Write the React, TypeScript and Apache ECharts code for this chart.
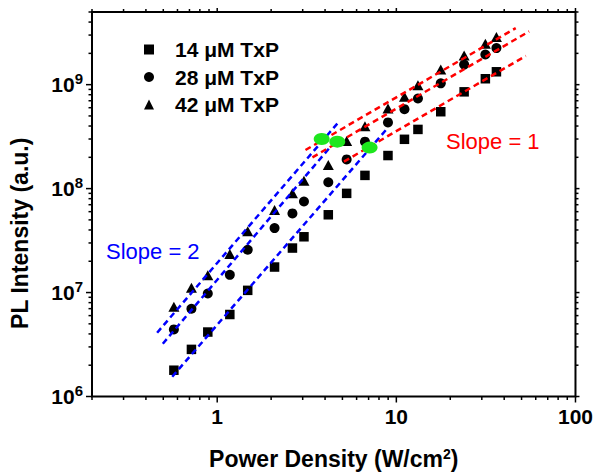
import React, { useEffect, useRef } from "react";
import * as echarts from "echarts";

const FONT = "'Liberation Sans', Arial, Helvetica, sans-serif";

// Data
const powerDensity = [0.573, 0.718, 0.886, 1.176, 1.48, 2.09, 2.63, 3.05, 4.17, 5.28, 6.68, 8.98, 11.1, 13.2, 17.7, 23.9, 31.4, 36.2];
const pl14 = [1.79e6, 2.84e6, 4.17e6, 6.15e6, 1.05e7, 1.76e7, 2.68e7, 3.44e7, 5.6e7, 9.0e7, 1.34e8, 2.08e8, 2.98e8, 3.71e8, 5.49e8, 8.53e8, 1.14e9, 1.33e9];
const pl28 = [4.42e6, 6.98e6, 9.8e6, 1.48e7, 2.58e7, 4.17e7, 5.77e7, 7.52e7, 1.15e8, 1.91e8, 2.83e8, 4.33e8, 5.81e8, 7.36e8, 1.03e9, 1.56e9, 1.95e9, 2.25e9];
const pl42 = [7.3e6, 1.11e7, 1.47e7, 2.35e7, 3.88e7, 6.21e7, 9.0e7, 1.19e8, 1.69e8, 2.87e8, 3.99e8, 5.9e8, 7.64e8, 9.87e8, 1.4e9, 1.91e9, 2.48e9, 2.87e9];

const seriesNames = ["14 μM TxP", "28 μM TxP", "42 μM TxP"];

// Fit lines (slope 2: blue, slope 1: red), endpoints [x, y]
const blueFit1 = [[0.462, 4.11e6], [4.78, 4.4e8]];
const blueFit2 = [[0.497, 3.22e6], [4.29, 2.53e8]];
const blueFit3 = [[0.561, 1.55e6], [8.9, 3.79e8]];
const redFit1 = [[3.11, 2.35e8], [46.4, 3.5e9]];
const redFit2 = [[3.4, 2.0e8], [55.1, 3.25e9]];
const redFit3 = [[5.1, 1.82e8], [52.8, 1.89e9]];

// Green highlighted transition points
const kneeX = [3.83, 4.68, 7.09];
const kneeY = [3.0e8, 2.83e8, 2.48e8];

// Axis ranges and tick values
const X_MIN = 0.2;
const X_MAX = 100;
const Y_MIN = 1e6;
const Y_MAX = 5e9;
const xMajorTicks = [1, 10, 100];
const xMinorTicks = [0.2, 0.3, 0.4, 0.5, 0.6, 0.7, 0.8, 0.9, 2, 3, 4, 5, 6, 7, 8, 9, 20, 30, 40, 50, 60, 70, 80, 90];
const yMajorTicks = [1e6, 1e7, 1e8, 1e9];
const yMinorTicks = [2e6, 3e6, 4e6, 5e6, 6e6, 7e6, 8e6, 9e6, 2e7, 3e7, 4e7, 5e7, 6e7, 7e7, 8e7, 9e7, 2e8, 3e8, 4e8, 5e8, 6e8, 7e8, 8e8, 9e8, 2e9, 3e9, 4e9, 5e9];

const isPow10 = (v: number) => {
  const l = Math.log10(v);
  return Math.abs(l - Math.round(l)) < 1e-6;
};

export default function App() {
  const ref = useRef<HTMLDivElement>(null);
  useEffect(() => {
    if (!ref.current) return;
    const chart = echarts.init(ref.current, null, { renderer: "svg" });

    const pts = (ys: number[]) => powerDensity.map((x, i) => [x, ys[i]]);
    const tickData: number[][] = [
      ...xMajorTicks.map((v) => [v, Y_MIN, 0]),
      ...xMinorTicks.map((v) => [v, Y_MIN, 1]),
      ...yMajorTicks.map((v) => [X_MIN, v, 2]),
      ...yMinorTicks.map((v) => [X_MIN, v, 3]),
    ];

    const fitLine = (data: number[][], color: string) => ({
      type: "line",
      data,
      symbol: "none",
      silent: true,
      z: 3,
      lineStyle: { color, width: 2.5, type: [6, 4], opacity: 1 },
    });

    const option: any = {
      animation: false,
      backgroundColor: "#fff",
      textStyle: { fontFamily: FONT },
      grid: {
        left: 91,
        right: 20,
        top: 12,
        bottom: 75,
        show: true,
        borderColor: "#000",
        borderWidth: 2,
        backgroundColor: "transparent",
      },
      legend: {
        orient: "vertical",
        left: 144,
        top: 39,
        padding: 0,
        itemWidth: 10,
        itemHeight: 10,
        itemGap: 6.5,
        data: [
          { name: seriesNames[0], icon: "rect" },
          { name: seriesNames[1], icon: "circle" },
          { name: seriesNames[2], icon: "triangle" },
        ],
        formatter: "{t|{name}}",
        textStyle: {
          rich: {
            t: {
              fontFamily: FONT,
              fontSize: 21,
              fontWeight: "bold",
              color: "#000",
              lineHeight: 21,
              padding: [0, 0, 0, 16],
            },
          },
        },
      },
      xAxis: {
        type: "log",
        logBase: 10,
        min: X_MIN,
        max: X_MAX,
        name: "Power Density (W/cm{sup|2})",
        nameLocation: "middle",
        nameGap: 50,
        nameTextStyle: {
          fontFamily: FONT,
          fontSize: 23,
          fontWeight: "bold",
          color: "#000",
          rich: {
            sup: { fontFamily: FONT, fontSize: 14, fontWeight: "bold", color: "#000", padding: [0, 0, 10, 0] },
          },
        },
        axisLine: { show: false },
        axisTick: { show: false },
        splitLine: { show: false },
        minorTick: { show: false },
        axisLabel: {
          margin: 9,
          fontFamily: FONT,
          fontSize: 21,
          fontWeight: "bold",
          color: "#000",
          formatter: (v: number) => (isPow10(v) ? String(Math.round(v)) : ""),
        },
      },
      yAxis: {
        type: "log",
        logBase: 10,
        min: Y_MIN,
        max: Y_MAX,
        name: "PL Intensity (a.u.)",
        nameLocation: "middle",
        nameGap: 61,
        nameTextStyle: {
          fontFamily: FONT,
          fontSize: 23,
          fontWeight: "bold",
          color: "#000",
          padding: [0, 58, 0, 0],
        },
        axisLine: { show: false },
        axisTick: { show: false },
        splitLine: { show: false },
        minorTick: { show: false },
        axisLabel: {
          margin: 9,
          fontFamily: FONT,
          fontSize: 21,
          fontWeight: "bold",
          color: "#000",
          formatter: (v: number) => (isPow10(v) ? "10{sup|" + Math.round(Math.log10(v)) + "}" : ""),
          rich: {
            sup: { fontFamily: FONT, fontSize: 15, fontWeight: "bold", color: "#000", padding: [0, 0, 12, 0] },
          },
        },
      },
      graphic: [
        {
          type: "text",
          left: 106,
          top: 240,
          style: { text: "Slope = 2", fill: "#0000ff", font: "22px " + FONT },
        },
        {
          type: "text",
          left: 446,
          top: 130,
          style: { text: "Slope = 1", fill: "#ff0000", font: "22px " + FONT },
        },
      ],
      series: [
        {
          name: seriesNames[0],
          type: "scatter",
          symbol: "rect",
          symbolSize: 9.5,
          itemStyle: { color: "#000", opacity: 1 },
          data: pts(pl14),
          z: 2,
        },
        {
          name: seriesNames[1],
          type: "scatter",
          symbol: "circle",
          symbolSize: 10,
          itemStyle: { color: "#000", opacity: 1 },
          data: pts(pl28),
          z: 2,
        },
        {
          name: seriesNames[2],
          type: "scatter",
          symbol: "triangle",
          symbolSize: [11, 10],
          itemStyle: { color: "#000", opacity: 1 },
          data: pts(pl42),
          z: 2,
        },
        fitLine(blueFit1, "#0000ff"),
        fitLine(blueFit2, "#0000ff"),
        fitLine(blueFit3, "#0000ff"),
        fitLine(redFit1, "#ff0000"),
        fitLine(redFit2, "#ff0000"),
        fitLine(redFit3, "#ff0000"),
        {
          type: "scatter",
          symbol: "circle",
          symbolSize: [16, 12],
          itemStyle: { color: "#1ee61e", opacity: 1 },
          data: kneeX.map((x, i) => [x, kneeY[i]]),
          silent: true,
          z: 4,
        },
        {
          type: "custom",
          silent: true,
          z: 5,
          data: tickData,
          encode: { x: 0, y: 1 },
          renderItem: (params: any, api: any) => {
            const cs = params.coordSys;
            const kind = api.value(2);
            const style = { stroke: "#000", lineWidth: 1.5 };
            const major = kind === 0 || kind === 2;
            const len = major ? 6 : 3.5;
            const lenFar = major ? 4 : 3;
            if (kind < 2) {
              const px = api.coord([api.value(0), Y_MIN])[0];
              const b = cs.y + cs.height;
              const t = cs.y;
              return {
                type: "group",
                children: [
                  { type: "line", shape: { x1: px, y1: b, x2: px, y2: b + len }, style },
                  { type: "line", shape: { x1: px, y1: t, x2: px, y2: t - lenFar }, style },
                ],
              };
            }
            const py = api.coord([X_MIN, api.value(1)])[1];
            const l = cs.x;
            const r = cs.x + cs.width;
            return {
              type: "group",
              children: [
                { type: "line", shape: { x1: l, y1: py, x2: l - len, y2: py }, style },
                { type: "line", shape: { x1: r, y1: py, x2: r + lenFar, y2: py }, style },
              ],
            };
          },
        },
      ],
    };

    chart.setOption(option);
    return () => chart.dispose();
  }, []);

  return (
    <div
      ref={ref}
      style={{ position: "fixed", left: 0, top: 0, width: 596, height: 475, background: "#fff" }}
    />
  );
}
